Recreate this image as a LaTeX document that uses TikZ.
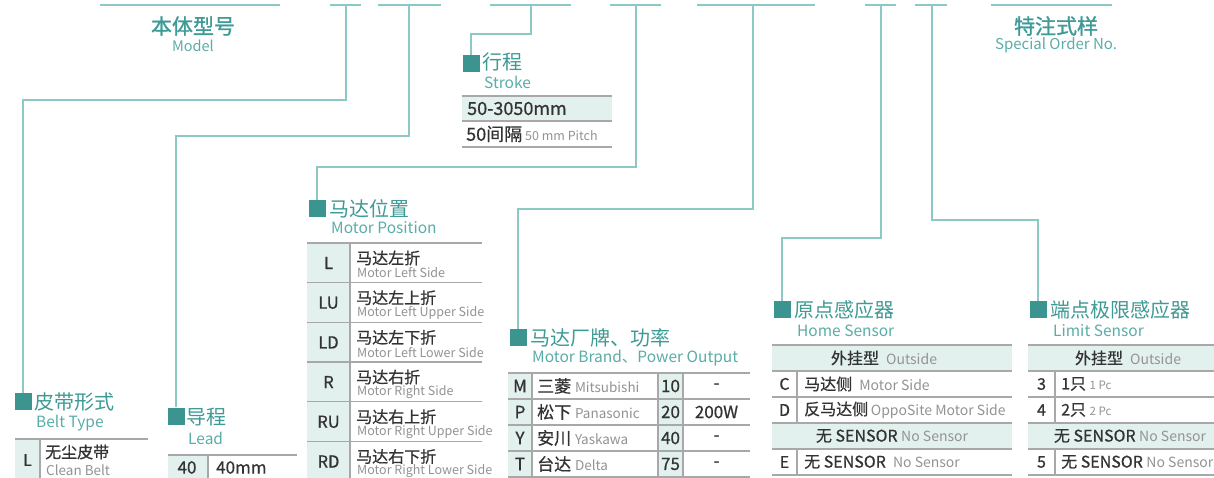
\documentclass[tikz,border=0pt]{standalone}
\usepackage{fontspec}
\setmainfont{Noto Sans CJK SC}
\newfontfamily\medf[FakeBold=0.7]{Noto Sans CJK SC}
\newfontfamily\ttlf[FakeBold=1.2]{Noto Sans CJK SC}
\definecolor{ttlc}{HTML}{3E9A95}
\definecolor{subc}{HTML}{5AADA8}
\definecolor{sqc}{HTML}{3B948F}
\definecolor{connc}{HTML}{8CC9C5}
\definecolor{rulec}{HTML}{A8A8A8}
\definecolor{cellc}{HTML}{E3F1EE}
\definecolor{txc}{HTML}{333333}
\definecolor{grayc}{HTML}{939393}
\newcommand\entx[2][12]{{\normalfont\fontsize{#1}{#1}\selectfont\color{grayc}#2}}
\newcommand\fsz[1]{\fontsize{#1}{#1}\selectfont}
\begin{document}
\begin{tikzpicture}[x=1pt,y=-1pt,
  conn/.style={draw=connc,line width=1.6pt},
  sq/.style={fill=sqc,minimum size=17pt,inner sep=0pt},
  ttl/.style={anchor=west,inner sep=0pt,text=ttlc,font=\fsz{20}},
  sub/.style={anchor=west,inner sep=0pt,text=subc,font=\fsz{15.5}},
  rl/.style={draw=rulec,line width=1.3pt},
  tx/.style={inner sep=0pt,text=txc,font=\medf\fsz{16}},
  txl/.style={tx,anchor=west},
]
\useasboundingbox (0,0) rectangle (1214,478);
\fill[white] (0,0) rectangle (1214,478);

% ---------- top code line ----------
\draw[conn] (100,5) -- (280,5);
\draw[conn] (330,5) -- (361,5);
\draw[conn] (378,5) -- (441,5);
\draw[conn] (490,5) -- (571,5);
\draw[conn] (610,5) -- (661,5);
\draw[conn] (697,5) -- (815,5);
\draw[conn] (865,5) -- (896,5);
\draw[conn] (915,5) -- (947,5);
\draw[conn] (991,5) -- (1112,5);
\coordinate (k2) at (346,5);
\coordinate (k3) at (409,5);
\coordinate (k4) at (531,5);
\coordinate (k5) at (636,5);
\coordinate (k6) at (753,5);
\coordinate (k7) at (881,5);
\coordinate (k8) at (932,5);

\node[inner sep=0pt,text=ttlc,font=\ttlf\fsz{21}] (model) at (193,26) {本体型号};
\node[inner sep=0pt,text=subc,font=\fsz{14.5}] (modelen) at (193,46) {Model};
\node[inner sep=0pt,text=ttlc,font=\ttlf\fsz{21}] (spec) at (1056,26) {特注式样};
\node[inner sep=0pt,text=subc,font=\fsz{15}] (specen) at (1056,45) {Special Order No.};

% ---------- squares and titles ----------
\node[sq] (sqStroke) at (471,63.5) {};
\node[ttl] (tStroke) at (482,62) {行程};
\node[sub] (eStroke) at (484,82) {Stroke};

\node[sq] (sqBelt) at (23,401.5) {};
\node[ttl] (tBelt) at (34,402) {皮带形式};
\node[sub] (eBelt) at (36,423) {Belt Type};

\node[sq] (sqLead) at (176,416) {};
\node[ttl] (tLead) at (186,417) {导程};
\node[sub] (eLead) at (188,438) {Lead};

\node[sq] (sqMP) at (317,208.5) {};
\node[ttl] (tMP) at (329,209) {马达位置};
\node[sub] (eMP) at (331,228) {Motor Position};

\node[sq] (sqMB) at (518,337.5) {};
\node[ttl] (tMB) at (530,338) {马达厂牌、功率};
\node[sub] (eMB) at (532,358) {Motor Brand、Power Output};

\node[sq] (sqHome) at (782,309.5) {};
\node[ttl] (tHome) at (794,310) {原点感应器};
\node[sub] (eHome) at (797,331) {Home Sensor};

\node[sq] (sqLim) at (1038,309.5) {};
\node[ttl] (tLim) at (1050,310) {端点极限感应器};
\node[sub] (eLim) at (1053,331) {Limit Sensor};

% ---------- connectors ----------
\draw[conn] (k2) -- ++(0,95) -| (sqBelt.north);
\draw[conn] (k3) -- ++(0,131) -| (sqLead.north);
\draw[conn] (k4) -- ++(0,29) -| (sqStroke.north);
\draw[conn] (k5) -- ++(0,162) -| (sqMP.north);
\draw[conn] (k6) -- ++(0,204) -| (sqMB.north);
\draw[conn] (k7) -- ++(0,233) -| (sqHome.north);
\draw[conn] (k8) -- ++(0,215) -| (sqLim.north);

% ---------- stroke table ----------
\fill[cellc] (462,96) rectangle (612,121);
\draw[rl] (462,96) -- (612,96) (462,121) -- (612,121) (462,147) -- (612,147);
\node[txl,font=\medf\fsz{18}] (s1) at (467,108.5) {50-3050mm};
\node[txl,font=\medf\fsz{18}] (s2) at (466,134) {50间隔\,\entx[12.5]{50 mm Pitch}};

% ---------- belt table ----------
\fill[cellc] (15,439) rectangle (40,480);
\draw[rl] (15,439) -- (148,439);
\draw[rl] (40,439) -- (40,480);
\node[tx] (b1) at (27.5,460) {L};
\node[txl] (b2) at (45,452) {无尘皮带};
\node[anchor=west,inner sep=0pt,text=grayc,font=\fsz{13.5}] (b3) at (46,470) {Clean Belt};

% ---------- lead table ----------
\fill[cellc] (168,455) rectangle (208,480);
\draw[rl] (168,455) -- (297,455);
\draw[rl] (208,455) -- (208,480);
\node[tx,font=\medf\fsz{17}] (l1) at (187,467.5) {40};
\node[txl,font=\medf\fsz{17}] (l2) at (216,467.5) {40mm};

% ---------- motor position table ----------
\fill[cellc] (307,243) rectangle (350,482);
\foreach \k in {0,...,6} {\draw[rl] (307,243+39.7*\k) -- (482,243+39.7*\k);}
\draw[rl] (350,243) -- (350,482);
\foreach \c/\zh/\en [count=\i from 0] in {L/马达左折/Motor Left Side,LU/马达左上折/Motor Left Upper Side,LD/马达左下折/Motor Left Lower Side,R/马达右折/Motor Right Side,RU/马达右上折/Motor Right Upper Side,RD/马达右下折/Motor Right Lower Side}{
  \node[tx,font=\medf\fsz{16.5}] (mpc\i) at (328.5,263+39.7*\i) {\c};
  \node[anchor=west,inner sep=0pt,text=txc,font=\medf\fsz{16}] (mpz\i) at (356,258+39.7*\i) {\zh};
  \node[anchor=west,inner sep=0pt,text=grayc,font=\fsz{12.5}] (mpe\i) at (357,273+39.7*\i) {\en};
}

% ---------- motor brand table ----------
\fill[cellc] (508,373) rectangle (532,480);
\fill[cellc] (658,373) rectangle (683,480);
\foreach \k in {0,...,4} {\draw[rl] (508,373+26*\k) -- (750,373+26*\k);}
\foreach \xx in {532,658,683} {\draw[rl] (\xx,373) -- (\xx,480);}
\foreach \c/\zh/\en/\n/\p [count=\i from 0] in {M/三菱/Mitsubishi/10/-,P/松下/Panasonic/20/200W,Y/安川/Yaskawa/40/-,T/台达/Delta/75/-}{
  \node[tx,font=\medf\fsz{17}] (mbc\i) at (520,386+26*\i) {\c};
  \node[txl,font=\medf\fsz{17}] (mbz\i) at (537,386+26*\i) {\zh\ \entx[13.5]{\en}};
  \node[tx,font=\medf\fsz{17}] (mbn\i) at (670.5,386+26*\i) {\n};
  \node[tx,font=\medf\fsz{17}] (mbp\i) at (716.5,386+26*\i) {\p};
}

% ---------- home sensor table ----------
\fill[cellc] (772,345) rectangle (1012,371);
\fill[cellc] (772,423) rectangle (1012,449);
\foreach \k in {0,...,5} {\draw[rl] (772,345+26*\k) -- (1012,345+26*\k);}
\draw[rl] (797,371) -- (797,423) (797,449) -- (797,475);
\node[tx] (h0) at (884,358) {外挂型\ \ \entx[14]{Outside}};
\node[tx] (hc1) at (784.5,384) {C};
\node[txl] (h1) at (804,384) {马达侧\ \ \entx[14]{Motor Side}};
\node[tx] (hc2) at (784.5,410) {D};
\node[txl] (h2) at (804,410) {反马达侧\,\entx[14]{OppoSite Motor Side}};
\node[tx] (h3) at (892,436) {无 SENSOR\ \entx[14]{No Sensor}};
\node[tx] (hc4) at (784.5,462) {E};
\node[txl] (h4) at (804,462) {无 SENSOR\ \ \entx[14]{No Sensor}};

% ---------- limit sensor table ----------
\fill[cellc] (1028,345) rectangle (1230,371);
\fill[cellc] (1028,423) rectangle (1230,449);
\foreach \k in {0,...,5} {\draw[rl] (1028,345+26*\k) -- (1230,345+26*\k);}
\draw[rl] (1055,371) -- (1055,423) (1055,449) -- (1055,475);
\node[tx] (m0) at (1128,358) {外挂型\ \ \entx[14]{Outside}};
\node[tx] (mc1) at (1041.5,384) {3};
\node[txl] (m1) at (1061,384) {1只 \entx[11.5]{1 Pc}};
\node[tx] (mc2) at (1041.5,410) {4};
\node[txl] (m2) at (1061,410) {2只 \entx[11.5]{2 Pc}};
\node[tx] (m3) at (1130,436) {无 SENSOR \entx[14]{No Sensor}};
\node[tx] (mc4) at (1041.5,462) {5};
\node[txl] (m4) at (1061,462) {无 SENSOR \entx[14]{No Sensor}};
\end{tikzpicture}
\end{document}
